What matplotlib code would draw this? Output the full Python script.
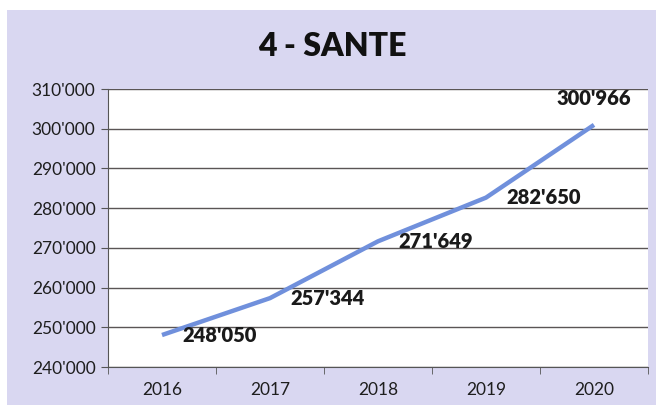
import numpy as np
import matplotlib.pyplot as plt
from matplotlib.patches import Rectangle
from matplotlib.ticker import FuncFormatter

years = ['2016', '2017', '2018', '2019', '2020']
values = [248050, 257344, 271649, 282650, 300966]
title = '4 - SANTE'

plt.rcParams['font.family'] = ['Lato', 'DejaVu Sans']

W, H = 656, 405
fig = plt.figure(figsize=(W / 100, H / 100), dpi=100, facecolor='white')
fig.patches.append(Rectangle((7 / W, 0), 1, 1 - 10 / H, transform=fig.transFigure,
                             facecolor='#d9d7f1', edgecolor='none', zorder=-1))

ax = fig.add_axes([108 / W, 1 - 367 / H, 540 / W, 278 / H])
ax.set_facecolor('white')

x = np.arange(len(years))
ax.plot(x, values, color='#7090dc', lw=3.2, solid_capstyle='butt')

def fmt(v):
    return f"{int(v):,}".replace(',', "'")

for i, v in enumerate(values):
    if i == len(values) - 1:
        ax.annotate(fmt(v), (i, v), xytext=(0, 19), textcoords='offset points',
                    ha='center', va='center', fontsize=14.5, fontweight='heavy', color='#1a1a1a')
    else:
        ax.annotate(fmt(v), (i, v), xytext=(15, 0), textcoords='offset points',
                    ha='left', va='center', fontsize=14.5, fontweight='heavy', color='#1a1a1a')

ax.set_xlim(-0.5, len(years) - 0.5)
ax.set_ylim(240000, 310000)
ax.set_yticks(np.arange(240000, 310001, 10000))
ax.yaxis.set_major_formatter(FuncFormatter(lambda v, p: fmt(v)))
ax.set_xticks(x)
ax.set_xticklabels(years)
ax.set_xticks(np.arange(-0.5, len(years)), minor=True)
ax.tick_params(axis='x', which='major', length=0, pad=11, labelsize=12.5, colors='#1e1e1e')
ax.tick_params(axis='x', which='minor', length=5, color='#555555', direction='out')
ax.tick_params(axis='y', length=5, color='#555555', labelsize=12.5, colors='#1e1e1e', pad=4)
ax.grid(axis='y', color='#5a5555', lw=1)
ax.set_axisbelow(True)
for s in ['top', 'right']:
    ax.spines[s].set_visible(False)
ax.spines['left'].set_color('#555555')
ax.spines['bottom'].set_color('#555555')

fig.text(0.5 + 4 / W, 1 - 47 / H, title, ha='center', va='center', fontsize=23, fontweight='heavy',
         color='#111111')

fig.savefig('out.png', dpi=100, facecolor=fig.get_facecolor())
